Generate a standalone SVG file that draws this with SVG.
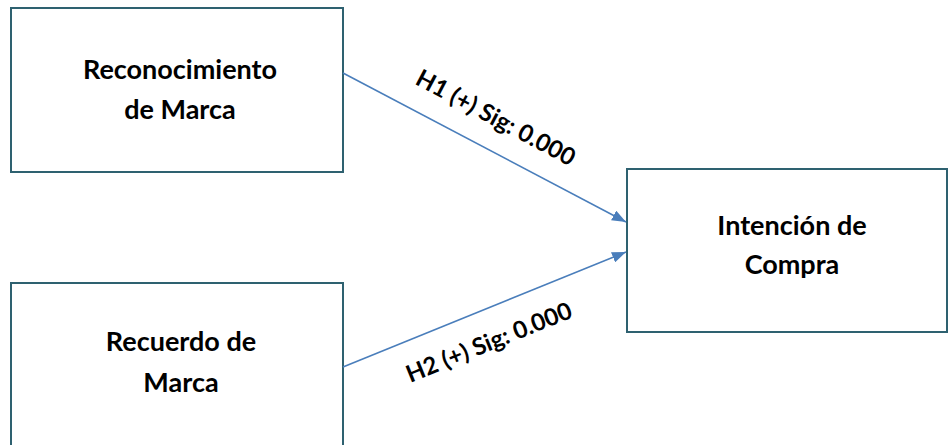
<svg xmlns="http://www.w3.org/2000/svg" width="948" height="445" viewBox="0 0 948 445">
<style>
.box{fill:#fff;stroke:#2e6170;stroke-width:2}
.t{font-family:Lato,"Open Sans",sans-serif;font-weight:bold;font-size:27px;fill:#000;text-anchor:middle}
.lbl{font-family:Lato,"Open Sans",sans-serif;font-weight:bold;font-size:24px;fill:#000;text-anchor:middle}
.c{stroke:#4a7ebb;stroke-width:1.6;fill:none}
</style>
<defs>
<marker id="ah" viewBox="0 0 14 11" refX="14" refY="5.5" markerWidth="14" markerHeight="11" markerUnits="userSpaceOnUse" orient="auto">
<path d="M0,0 L14,5.5 L0,11 z" fill="#4a7ebb"/>
</marker>
</defs>
<rect width="948" height="445" fill="#fff"/>
<g id="n1"><rect class="box" x="11" y="8" width="332" height="164"/>
<text class="t" x="180" y="79">Reconocimiento</text><text class="t" x="180" y="119">de Marca</text></g>
<g id="n2"><rect class="box" x="11" y="283" width="332" height="170"/>
<text class="t" x="181" y="351">Recuerdo de</text><text class="t" x="181" y="392">Marca</text></g>
<g id="n3"><rect class="box" x="627" y="169" width="320" height="163"/>
<text class="t" x="792" y="235">Intención de</text><text class="t" x="792" y="274">Compra</text></g>
<g id="connectors">
<line class="c" x1="343" y1="73" x2="626" y2="222" marker-end="url(#ah)"/>
<line class="c" x1="343" y1="367" x2="626" y2="252" marker-end="url(#ah)"/>
<text class="lbl" transform="translate(492,125) rotate(28)">H1 (+) Sig: 0.000</text>
<text class="lbl" transform="translate(492,350) rotate(-22)">H2 (+) Sig: 0.000</text>
</g>
</svg>
